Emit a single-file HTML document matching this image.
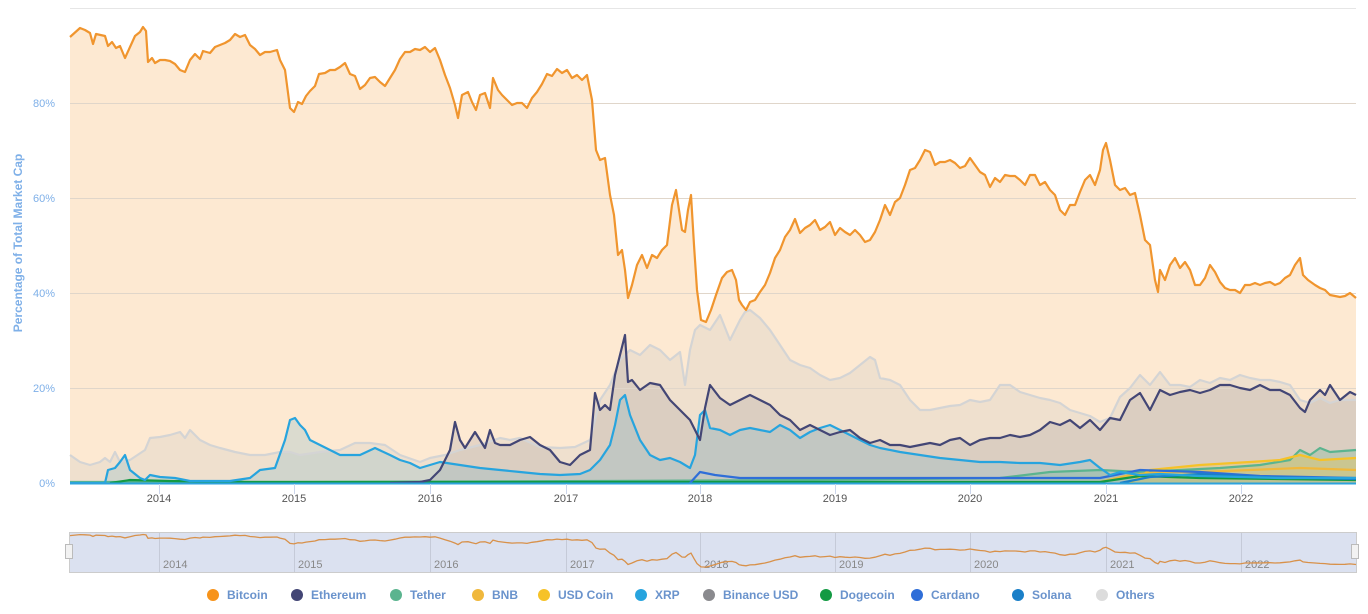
<!DOCTYPE html>
<html><head><meta charset="utf-8"><style>
html,body{margin:0;padding:0;background:#fff;}
svg text{font-family:"Liberation Sans",sans-serif;}
</style></head><body>
<svg id="s" width="1368" height="609" xmlns="http://www.w3.org/2000/svg">
<rect width="1368" height="609" fill="#fff"/>
<g stroke="#e6e6e6" stroke-width="1">
<line x1="70" x2="1356" y1="8.5" y2="8.5"/><line x1="70" x2="1356" y1="103.5" y2="103.5"/><line x1="70" x2="1356" y1="198.5" y2="198.5"/><line x1="70" x2="1356" y1="293.5" y2="293.5"/><line x1="70" x2="1356" y1="388.5" y2="388.5"/>
</g>
<g id="areas"></g>
<g stroke="#e0d6ca" stroke-width="1" id="grid2">
<line x1="70" x2="1356" y1="103.5" y2="103.5"/><line x1="70" x2="1356" y1="198.5" y2="198.5"/><line x1="70" x2="1356" y1="293.5" y2="293.5"/><line x1="70" x2="1356" y1="388.5" y2="388.5"/>
</g>
<g id="lines"></g>
<line x1="70" x2="1356" y1="483.5" y2="483.5" stroke="#2ea3dc" stroke-width="2"/>
<g fill="#7fb0e8" font-size="11" text-anchor="end">
<text x="55" y="107">80%</text><text x="55" y="202">60%</text><text x="55" y="297">40%</text><text x="55" y="392">20%</text><text x="55" y="487">0%</text>
</g>
<text transform="translate(22,243) rotate(-90)" text-anchor="middle" fill="#7fb0e8" font-size="12" font-weight="bold">Percentage of Total Market Cap</text>
<g stroke="#ccd6eb" stroke-width="1">
<line x1="159.5" x2="159.5" y1="484" y2="494"/><line x1="294.5" x2="294.5" y1="484" y2="494"/><line x1="430.5" x2="430.5" y1="484" y2="494"/><line x1="566.5" x2="566.5" y1="484" y2="494"/><line x1="700.5" x2="700.5" y1="484" y2="494"/><line x1="835.5" x2="835.5" y1="484" y2="494"/><line x1="970.5" x2="970.5" y1="484" y2="494"/><line x1="1106.5" x2="1106.5" y1="484" y2="494"/><line x1="1241.5" x2="1241.5" y1="484" y2="494"/>
</g>
<g fill="#555" font-size="11" text-anchor="middle">
<text x="159" y="502">2014</text><text x="294" y="502">2015</text><text x="430" y="502">2016</text><text x="566" y="502">2017</text><text x="700" y="502">2018</text><text x="835" y="502">2019</text><text x="970" y="502">2020</text><text x="1106" y="502">2021</text><text x="1241" y="502">2022</text>
</g>
<rect x="69.5" y="532.5" width="1287" height="40" fill="#dbe1f0" stroke="#cccccc"/>
<g stroke="#c5cad8"><line x1="159.5" x2="159.5" y1="533" y2="572"/><line x1="294.5" x2="294.5" y1="533" y2="572"/><line x1="430.5" x2="430.5" y1="533" y2="572"/><line x1="566.5" x2="566.5" y1="533" y2="572"/><line x1="700.5" x2="700.5" y1="533" y2="572"/><line x1="835.5" x2="835.5" y1="533" y2="572"/><line x1="970.5" x2="970.5" y1="533" y2="572"/><line x1="1106.5" x2="1106.5" y1="533" y2="572"/><line x1="1241.5" x2="1241.5" y1="533" y2="572"/></g>
<g fill="#888" font-size="11">
<text x="163" y="568">2014</text><text x="298" y="568">2015</text><text x="434" y="568">2016</text><text x="570" y="568">2017</text><text x="704" y="568">2018</text><text x="839" y="568">2019</text><text x="974" y="568">2020</text><text x="1110" y="568">2021</text><text x="1245" y="568">2022</text>
</g>
<path id="nav" fill="none" stroke="#d8914a" stroke-width="1.3"/>
<rect x="65.5" y="544.5" width="7" height="14" fill="#f2f2f2" stroke="#bbb"/>
<rect x="1351.5" y="544.5" width="7" height="14" fill="#f2f2f2" stroke="#bbb"/>
<g font-size="12" font-weight="bold" fill="#6a93cc">
<circle cx="213" cy="595" r="6" fill="#f7931a"/><text x="227" y="599">Bitcoin</text>
<circle cx="297" cy="595" r="6" fill="#434675"/><text x="311" y="599">Ethereum</text>
<circle cx="396" cy="595" r="6" fill="#5bb48f"/><text x="410" y="599">Tether</text>
<circle cx="478" cy="595" r="6" fill="#f0b83c"/><text x="492" y="599">BNB</text>
<circle cx="544" cy="595" r="6" fill="#f6c228"/><text x="558" y="599">USD Coin</text>
<circle cx="641" cy="595" r="6" fill="#27a4de"/><text x="655" y="599">XRP</text>
<circle cx="709" cy="595" r="6" fill="#8a8a8e"/><text x="723" y="599">Binance USD</text>
<circle cx="826" cy="595" r="6" fill="#139a43"/><text x="840" y="599">Dogecoin</text>
<circle cx="917" cy="595" r="6" fill="#2f6ed8"/><text x="931" y="599">Cardano</text>
<circle cx="1018" cy="595" r="6" fill="#1a7fc8"/><text x="1032" y="599">Solana</text>
<circle cx="1102" cy="595" r="6" fill="#dcdcdc"/><text x="1116" y="599">Others</text>
</g>
</svg>
<script>
function P(a){var s='';for(var i=0;i<a.length;i+=2)s+=(i?'L':'M')+a[i]+','+a[i+1];return s;}
function A(a){return P(a)+'L'+a[a.length-2]+',483L'+a[0]+',483Z';}
var btc=[70,37,80,28,85,30,90,33,93,44,96,34,105,36,108,46,112,42,116,48,120,46,125,58,130,47,135,36,140,32,143,27,146,31,148,62,152,58,155,63,160,60,165,60,170,61,175,64,180,70,185,72,190,60,195,54,200,59,203,51,210,53,215,47,220,45,225,43,230,40,235,34,240,37,245,35,250,45,255,49,260,55,265,52,270,52,277,50,280,60,285,70,290,108,294,112,298,102,302,104,306,96,310,91,315,86,319,74,325,73,330,70,335,70,340,67,345,63,350,74,355,76,360,89,365,85,370,78,375,77,380,82,385,86,390,78,395,70,400,59,405,52,410,52,415,49,420,50,425,47,430,52,435,48,440,60,445,75,450,88,455,105,458,118,462,95,468,92,472,102,476,110,480,95,485,93,490,108,493,78,498,90,502,95,507,100,512,105,517,103,522,103,527,108,532,98,537,92,542,84,547,74,552,76,557,69,562,73,567,70,572,78,577,75,582,80,587,75,592,100,596,150,600,160,605,158,610,195,614,215,618,255,622,250,625,270,628,298,632,285,637,265,642,255,647,268,652,255,657,258,662,250,667,245,672,205,676,190,679,210,682,230,685,232,688,210,691,195,694,245,697,290,701,320,706,322,711,310,716,295,722,278,727,272,732,270,736,280,739,300,742,305,746,310,750,302,755,300,760,292,765,285,770,273,775,258,780,250,785,237,790,230,795,219,800,233,805,228,810,225,815,220,820,230,825,227,830,222,835,235,840,228,845,232,850,235,855,230,860,235,865,242,870,240,875,232,880,220,885,205,890,215,895,202,900,198,905,185,910,170,915,168,920,160,925,150,930,152,935,165,940,162,945,162,950,160,955,163,960,168,965,166,970,158,975,165,980,172,985,175,990,187,995,178,1000,182,1005,175,1010,176,1015,176,1020,180,1025,185,1030,175,1035,175,1040,185,1045,182,1050,190,1055,195,1060,210,1065,215,1070,205,1075,205,1080,192,1085,180,1090,175,1095,185,1100,170,1103,150,1106,143,1110,160,1115,185,1120,190,1125,188,1130,195,1135,193,1140,215,1145,240,1150,245,1155,280,1158,292,1160,270,1165,280,1170,265,1175,258,1180,268,1185,262,1190,270,1195,285,1200,285,1205,278,1210,265,1215,272,1220,282,1225,288,1230,290,1235,290,1240,293,1245,285,1250,285,1255,283,1260,285,1265,283,1270,282,1275,285,1280,283,1285,278,1290,275,1295,265,1300,258,1303,275,1308,280,1315,285,1320,288,1325,290,1330,295,1335,296,1340,297,1345,296,1350,293,1356,298];
var oth=[70,455,80,462,90,465,100,462,105,458,110,462,115,452,120,462,130,460,145,450,150,438,160,437,170,435,180,432,185,438,190,430,200,440,210,445,220,448,235,452,250,455,265,455,280,452,290,452,300,455,320,452,340,450,355,443,370,443,385,445,400,455,420,462,430,458,445,455,460,450,480,445,500,438,510,440,520,438,540,447,560,448,575,447,590,440,600,400,610,385,620,360,630,350,640,355,650,345,660,350,670,360,680,352,685,385,690,350,695,330,700,325,710,330,720,315,730,340,740,320,745,312,750,310,760,318,770,330,780,345,790,360,800,365,810,368,820,375,830,380,840,378,850,373,860,365,870,357,875,360,880,378,890,380,900,385,910,400,920,410,930,410,940,408,950,406,960,405,970,400,980,402,990,400,1000,385,1010,385,1020,392,1030,395,1040,398,1050,400,1060,403,1070,410,1080,413,1090,416,1100,422,1110,418,1120,397,1130,388,1140,375,1150,385,1160,372,1170,385,1180,385,1190,387,1200,380,1210,383,1220,378,1230,380,1240,375,1250,378,1260,380,1270,380,1280,382,1290,385,1300,400,1310,403,1320,398,1330,403,1340,400,1356,400];
var eth=[390,483,420,482,430,480,440,470,450,450,455,422,460,440,465,448,470,440,475,432,480,440,485,448,490,430,495,443,500,445,510,445,520,440,530,437,540,445,550,450,560,462,570,465,580,455,590,450,595,393,600,410,605,405,610,410,615,375,620,355,625,335,628,382,632,380,640,390,650,383,660,385,670,400,680,410,690,420,695,430,700,440,705,408,710,385,720,398,730,405,740,400,750,395,760,400,770,405,780,415,790,420,800,430,810,425,820,430,830,435,840,432,850,430,860,438,870,443,880,440,890,445,900,445,910,447,920,445,930,443,940,445,950,440,960,438,970,445,980,440,990,438,1000,438,1010,435,1020,437,1030,435,1040,430,1050,422,1060,425,1070,420,1080,428,1090,420,1100,430,1110,418,1120,420,1130,400,1140,393,1150,410,1160,390,1170,395,1180,392,1190,390,1200,393,1210,390,1220,385,1230,385,1240,388,1250,390,1260,385,1270,390,1280,390,1290,395,1300,408,1305,412,1310,400,1320,390,1325,395,1330,385,1340,400,1350,392,1356,395];
var xrp=[70,483,105,483,108,470,115,468,120,462,125,455,130,470,140,478,145,480,150,475,160,477,175,478,190,481,230,481,250,478,260,470,275,468,285,440,290,420,295,418,300,425,305,430,310,440,320,445,330,450,340,455,360,455,375,448,390,455,400,460,410,463,420,468,430,465,440,462,460,465,480,468,500,470,520,472,540,474,560,475,580,474,590,470,600,460,610,445,615,425,620,400,625,395,630,415,640,440,650,455,660,460,670,458,680,462,690,468,695,455,700,415,705,410,710,428,720,430,730,435,740,430,750,428,760,430,770,432,780,425,790,430,800,438,810,432,820,428,830,425,840,430,850,435,860,440,870,445,880,448,900,452,920,455,940,458,960,460,980,462,1000,462,1020,463,1040,463,1060,465,1080,462,1090,460,1100,468,1110,475,1120,472,1140,475,1160,474,1200,476,1240,477,1280,478,1320,478,1356,478];
var usdt=[70,482,300,482,600,481,800,480,1000,478,1050,472,1100,470,1140,472,1180,470,1220,468,1260,465,1290,460,1300,450,1310,455,1320,448,1330,452,1356,450];
var usdc=[1130,483,1150,470,1200,465,1250,462,1280,460,1300,455,1320,460,1356,458];
var bnb=[1100,482,1130,475,1160,472,1200,472,1250,470,1300,468,1356,470];
var ada=[690,483,700,472,715,475,740,478,800,478,1100,478,1140,470,1200,472,1260,476,1356,478];
var doge=[110,483,130,480,170,481,250,482,1100,482,1140,476,1200,478,1356,480];
var sol=[1120,483,1150,477,1200,474,1260,477,1356,479];
var ar=document.getElementById('areas'),ln=document.getElementById('lines');
function add(g,d,f,s,w){var p=document.createElementNS('http://www.w3.org/2000/svg','path');p.setAttribute('d',d);p.setAttribute('fill',f);if(s){p.setAttribute('stroke',s);p.setAttribute('stroke-width',w);p.setAttribute('stroke-linejoin','round');}g.appendChild(p);}
add(ar,A(btc),'#fde9d2');
add(ar,A(oth),'rgba(210,205,200,0.3)');
add(ar,A(eth),'rgba(150,140,150,0.22)');
add(ar,A(xrp),'rgba(120,180,200,0.25)');
add(ar,A(usdt),'rgba(91,180,143,0.25)');
add(ar,A(usdc),'rgba(246,194,40,0.25)');
var L=[[oth,'#d4d4d4'],[btc,'#f0952e'],[usdt,'#5bb48f'],[bnb,'#f0b83c'],[usdc,'#f6c228'],[doge,'#139a43'],[ada,'#2f6ed8'],[sol,'#1a7fc8'],[xrp,'#27a4de'],[eth,'#434675']];
for(var i=0;i<L.length;i++)add(ln,P(L[i][0]),'none',L[i][1],2.2);
var nv=[];for(var i=0;i<btc.length;i+=2){var pct=(483-btc[i+1])/4.75;nv.push(btc[i],(535+(95-pct)*0.526).toFixed(1));}
document.getElementById('nav').setAttribute('d',P(nv));
</script>
</body></html>
